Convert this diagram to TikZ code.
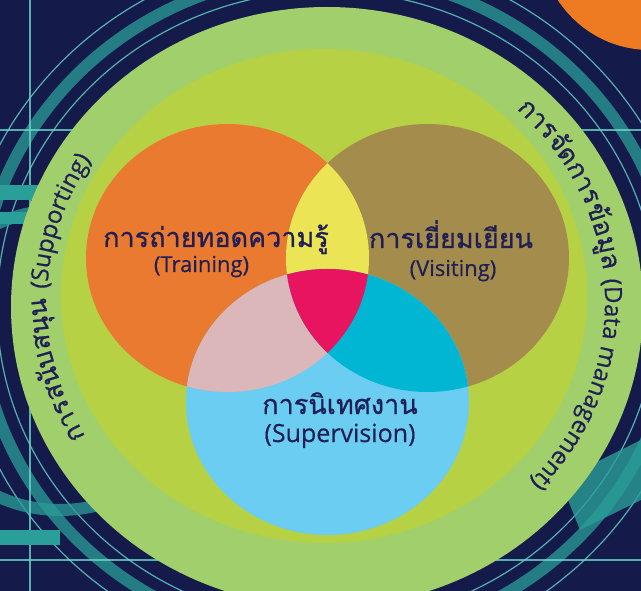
\documentclass[tikz,border=0pt]{standalone}
\usepackage{fontspec}
\newfontfamily\thaifont[Script=Thai,FakeBold=0.8]{Loma}
\newfontfamily\latinfont[FakeBold=0.4]{Open Sans}
\usetikzlibrary{decorations.text}
\definecolor{bgnavy}{HTML}{141A4A}
\definecolor{tealC}{HTML}{2A9E98}
\definecolor{tealL}{HTML}{66D6CC}
\definecolor{ringC}{HTML}{A0CF6C}
\definecolor{innerC}{HTML}{B6D244}
\definecolor{orangeC}{HTML}{E97A30}
\definecolor{brownC}{HTML}{A38C4C}
\definecolor{blueC}{HTML}{6BCDF2}
\definecolor{yellowC}{HTML}{EBE454}
\definecolor{pinkC}{HTML}{DCB7B9}
\definecolor{cyanC}{HTML}{00B6D3}
\definecolor{redC}{HTML}{E8145F}
\definecolor{txtc}{HTML}{1F1F55}
\definecolor{blobC}{HTML}{EE7A22}
\tikzset{
  lbl/.style={font=\thaifont\fontsize{27}{30}\selectfont, text=txtc, inner sep=0pt, anchor=base},
  sublbl/.style={font=\latinfont\fontsize{22}{25}\selectfont, text=txtc, inner sep=0pt, anchor=base},
  techband/.style={draw=tealC, line width=12pt, opacity=0.75},
  techline/.style={draw=tealL, line width=1.2pt, opacity=0.8},
  arctext/.style={decorate, decoration={text along path, text align=center, text color=txtc}}
}
\begin{document}
\begin{tikzpicture}[x=1pt,y=1pt]
\useasboundingbox (0,0) rectangle (641,-591);
\fill[bgnavy] (0,0) rectangle (641,-591);
% background technology pattern
\begin{scope}
\clip (0,0) rectangle (641,-591);
\draw[techband] (327,-307) circle[x radius=348, y radius=334];
\draw[techline] (327,-307) circle[x radius=368, y radius=354];
\draw[techline] (327,-307) circle[x radius=330, y radius=316];
\draw[techband] (60,-360) circle[radius=150];
\draw[techline] (0,-130) -- (641,-130);
\draw[techline] (0,-560) -- (641,-560);
\draw[techline] (30,0) -- (30,-591);
\fill[tealC] (0,-185) rectangle (45,-200);
\fill[tealC] (0,-212) rectangle (35,-224);
\fill[tealC] (0,-530) rectangle (60,-545);
\fill[tealC,opacity=0.8] (560,-480) -- (641,-440) -- (641,-500) -- (580,-530) -- cycle;
\end{scope}
% orange blob top right
\fill[blobC] (650,60) circle[radius=110];
% rings
\fill[ringC] (327,-307) ellipse[x radius=316, y radius=300];
\fill[innerC] (324,-296) ellipse[x radius=263, y radius=247];
% Venn circles
\fill[orangeC] (227.5,-258) ellipse[x radius=141.5, y radius=134];
\fill[brownC] (427.5,-258) ellipse[x radius=141.5, y radius=134];
\fill[blueC] (327.5,-402) ellipse[x radius=141.5, y radius=133];
\begin{scope}
\clip (227.5,-258) ellipse[x radius=141.5, y radius=134];
\fill[yellowC] (427.5,-258) ellipse[x radius=141.5, y radius=134];
\fill[pinkC] (327.5,-402) ellipse[x radius=141.5, y radius=133];
\end{scope}
\begin{scope}
\clip (427.5,-258) ellipse[x radius=141.5, y radius=134];
\fill[cyanC] (327.5,-402) ellipse[x radius=141.5, y radius=133];
\end{scope}
\begin{scope}
\clip (227.5,-258) ellipse[x radius=141.5, y radius=134];
\clip (427.5,-258) ellipse[x radius=141.5, y radius=134];
\fill[redC] (327.5,-402) ellipse[x radius=141.5, y radius=133];
\end{scope}
% labels
\node[lbl] (trTh) at (216,-247) {การถ่ายทอดความรู้};
\node[sublbl] (trEn) at (201.5,-272) {(Training)};
\node[lbl] (viTh) at (451,-248) {การเยี่ยมเยียน};
\node[sublbl] (viEn) at (453,-276) {(Visiting)};
\node[lbl] (suTh) at (340,-414) {การนิเทศงาน};
\node[sublbl, font=\latinfont\fontsize{25}{28}\selectfont] (suEn) at (340,-442) {(Supervision)};
% curved ring texts
\path[arctext, decoration={text={|\thaifont\fontsize{26}{29}\selectfont|{การ}{สนับ}{สนุน} |\latinfont\fontsize{24}{28}\selectfont|(Supporting)}}]
  (326,-302) ++(222:279 and 263) arc[start angle=222, end angle=136, x radius=279, y radius=263];
\path[arctext, decoration={text={|\thaifont\fontsize{26}{29}\selectfont|{การ}{จัด}{การ}{ข้อ}{มูล} |\latinfont\fontsize{24}{28}\selectfont|(Data management)}}]
  (326,-302) ++(58:279 and 263) arc[start angle=58, end angle=-54, x radius=279, y radius=263];
\end{tikzpicture}
\end{document}
